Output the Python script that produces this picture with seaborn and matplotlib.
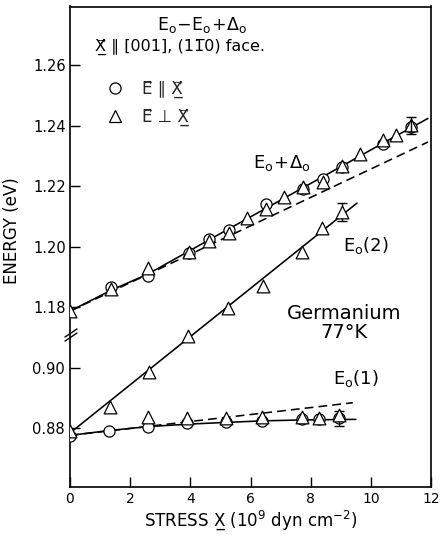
import numpy as np
import matplotlib
matplotlib.use("Agg")
import matplotlib.pyplot as plt
import seaborn as sns
from matplotlib.lines import Line2D
from matplotlib.ticker import FormatStrFormatter

sns.set_theme(style="ticks")
plt.rcParams["font.family"] = ["DejaVu Sans"]
plt.rcParams["mathtext.fontset"] = "dejavusans"

# ---- E0 + Delta0 (upper energy scale, eV) ----
so_stress_perp = [0, 1.35, 2.6, 3.95, 4.62, 5.29, 5.9, 6.5, 7.1, 7.75, 8.4,
                  9.05, 9.65, 10.4, 10.85, 11.35]
so_energy_perp = [1.1787, 1.1859, 1.1928, 1.1983, 1.2018, 1.2046, 1.2095, 1.2123,
                  1.2165, 1.2198, 1.2214, 1.2267, 1.2306, 1.2352, 1.2369, 1.2402]
so_stress_par = [1.35, 2.6, 3.95, 4.62, 5.29, 6.5, 7.75, 8.4, 9.05, 10.4, 11.35]
so_energy_par = [1.1865, 1.1902, 1.1978, 1.2024, 1.2055, 1.2140, 1.2192, 1.2225,
                 1.2262, 1.2341, 1.2395]
so_fit_stress = [0, 1.35, 2.6, 3.95, 5.3, 6.5, 7.75, 9.05, 10.4, 11.9]
so_fit_energy = [1.1787, 1.1855, 1.1910, 1.1985, 1.2060, 1.2126, 1.2195, 1.2267,
                 1.2342, 1.2424]
so_lin_stress = [0, 11.9]
so_lin_energy = [1.1787, 1.2346]
so_err_stress = [11.35]
so_err_energy = [1.2400]
so_err = [0.0028]

# ---- E0 components (lower energy scale, eV) ----
e1_stress_par = [0, 1.31, 2.58, 3.89, 5.2, 6.39, 7.7, 8.28, 8.93]
e1_energy_par = [0.8774, 0.8791, 0.8804, 0.8816, 0.8821, 0.8824, 0.8829, 0.8829, 0.8832]
e1_stress_perp = [2.58, 3.89, 5.2, 6.39, 7.7, 8.28, 8.93]
e1_energy_perp = [0.8837, 0.8832, 0.8832, 0.8837, 0.8837, 0.8834, 0.8843]
e1_fit_stress = [0, 1.3, 2.6, 3.9, 5.2, 6.4, 7.7, 9.5]
e1_fit_energy = [0.8776, 0.8792, 0.8805, 0.8813, 0.8819, 0.8824, 0.8827, 0.8829]
e1_lin_stress = [0, 9.4]
e1_lin_energy = [0.8776, 0.8884]
e1_err_stress = [8.93]
e1_err_energy = [0.8832]
e1_err = [0.0025]

e2_stress = [0, 1.32, 2.62, 3.93, 5.24, 6.43, 7.72, 8.38, 9.05]
e2_energy = [0.8791, 0.8870, 0.8984, 0.9105, 0.9198, 0.9269, 0.9383, 0.9462, 0.9515]
e2_fit_stress = [0, 9.54]
e2_fit_energy = [0.8784, 0.9544]
e2_err_stress = [9.05]
e2_err_energy = [0.9515]
e2_err = [0.0029]

x_ticks = [0, 2, 4, 6, 8, 10, 12]
low_ticks = [0.88, 0.90]
up_ticks = [1.18, 1.20, 1.22, 1.24, 1.26]
low_range = (0.8607, 1.0194)
scale_offset = 0.26  # energy removed at the axis break

LW = 1.15
DASH = (0, (5.5, 3.2))
circ_kw = dict(marker="o", s=64, color="white", edgecolor="black", linewidth=0.9)
tri_kw = dict(marker="^", s=84, color="white", edgecolor="black", linewidth=0.9)

fig = plt.figure(figsize=(4.42, 5.37), dpi=100)
ax = fig.add_axes([70 / 442, 1 - 486.5 / 537, 361 / 442, 480 / 537])
ax_up = ax.twinx()

# lower scale: E0(1) and E0(2)
sns.lineplot(x=e1_fit_stress, y=e1_fit_energy, ax=ax, color="black", linewidth=LW,
             estimator=None, sort=False, zorder=2)
sns.lineplot(x=e1_lin_stress, y=e1_lin_energy, ax=ax, color="black", linewidth=LW,
             linestyle=DASH, estimator=None, sort=False, zorder=2)
sns.lineplot(x=e2_fit_stress, y=e2_fit_energy, ax=ax, color="black", linewidth=LW,
             estimator=None, sort=False, zorder=2)
sns.scatterplot(x=e1_stress_par, y=e1_energy_par, ax=ax, zorder=3, **circ_kw)
ax.errorbar(e1_err_stress, e1_err_energy, yerr=e1_err, fmt="none", ecolor="black",
            elinewidth=1.0, capsize=3.5, capthick=1.0, zorder=3.5)
ax.errorbar(e2_err_stress, e2_err_energy, yerr=e2_err, fmt="none", ecolor="black",
            elinewidth=1.0, capsize=3.5, capthick=1.0, zorder=3.5)
sns.scatterplot(x=e1_stress_perp, y=e1_energy_perp, ax=ax, zorder=4, **tri_kw)
sns.scatterplot(x=e2_stress, y=e2_energy, ax=ax, zorder=4, **tri_kw)

# upper scale: E0 + Delta0
sns.lineplot(x=so_fit_stress, y=so_fit_energy, ax=ax_up, color="black", linewidth=LW,
             estimator=None, sort=False, zorder=2)
sns.lineplot(x=so_lin_stress, y=so_lin_energy, ax=ax_up, color="black", linewidth=LW,
             linestyle=DASH, estimator=None, sort=False, zorder=2)
sns.scatterplot(x=so_stress_par, y=so_energy_par, ax=ax_up, zorder=3, **circ_kw)
sns.scatterplot(x=so_stress_perp, y=so_energy_perp, ax=ax_up, zorder=4, **tri_kw)
ax_up.errorbar(so_err_stress, so_err_energy, yerr=so_err, fmt="none", ecolor="black",
               elinewidth=1.0, capsize=3.5, capthick=1.0, zorder=5)

# axes, scales and ticks
ax.set_xlim(0, 12)
ax.set_ylim(*low_range)
ax_up.set_ylim(low_range[0] + scale_offset, low_range[1] + scale_offset)
ax.set_xticks(x_ticks)
ax.set_xticklabels([str(t) for t in x_ticks])
ax.set_yticks(low_ticks)
ax_up.set_yticks(up_ticks)
ax.yaxis.set_major_formatter(FormatStrFormatter("%.2f"))
ax_up.yaxis.set_major_formatter(FormatStrFormatter("%.2f"))
ax_up.yaxis.tick_left()

tick_kw = dict(direction="in", length=7, width=1.0, color="black", labelcolor="black")
ax.tick_params(axis="x", pad=4, top=False, bottom=True, labelsize=10, **tick_kw)
ax.tick_params(axis="y", pad=4, left=True, right=False, labelsize=10.5, **tick_kw)
ax_up.tick_params(axis="y", pad=3, left=True, right=False, labelleft=True,
                  labelright=False, labelsize=10.5, **tick_kw)

for side in ["left", "right", "top", "bottom"]:
    ax.spines[side].set_color("black")
    ax.spines[side].set_linewidth(1.2)
    ax_up.spines[side].set_visible(False)
ax.set_facecolor("white")
ax_up.patch.set_visible(False)

ax.set_xlabel("STRESS X\u0332 (10$^{9}$ dyn cm$^{-2}$)", fontsize=12, color="black",
              labelpad=2)
ax.set_ylabel("ENERGY (eV)", fontsize=12, color="black")
ax.yaxis.set_label_coords(-0.137, 0.534)
ax_up.set_ylabel("")

# axis break marks on the left spine
for y0 in (0.3115, 0.3030):
    ax.plot([-0.0138, 0.0194], [y0, y0 + 0.0167], transform=ax.transAxes,
            color="black", lw=1.0, clip_on=False, zorder=6)

# annotations
ax.text(0.367, 0.961, r"$\mathregular{E_o\!-\!E_o\!+\!\Delta_o}$", transform=ax.transAxes,
        ha="center", va="center", fontsize=12.5, color="black")
ax.text(0.069, 0.915, "X\u20d7\u0332 \u2225 [001], (11\u03050) face.", transform=ax.transAxes,
        ha="left", va="center", fontsize=11.5, color="black")
ax.text(0.507, 0.674, r"$\mathregular{E_o\!+\!\Delta_o}$", transform=ax.transAxes,
        ha="left", va="center", fontsize=13, color="black")
ax.text(0.756, 0.503, r"$\mathregular{E_o(2)}$", transform=ax.transAxes,
        ha="left", va="center", fontsize=13, color="black")
ax.text(0.729, 0.226, r"$\mathregular{E_o(1)}$", transform=ax.transAxes,
        ha="left", va="center", fontsize=13, color="black")
ax.text(0.759, 0.341, "Germanium\n77\u00b0K", transform=ax.transAxes,
        ha="center", va="center", fontsize=14, color="black", linespacing=1.0)

handles = [
    Line2D([], [], marker="o", ls="none", mfc="white", mec="black", ms=8, mew=0.9),
    Line2D([], [], marker="^", ls="none", mfc="white", mec="black", ms=9, mew=0.9),
]
labels = ["E\u20d7 \u2225 X\u20d7\u0332", "E\u20d7 \u22a5 X\u20d7\u0332"]
ax_up.legend(handles, labels, loc="upper left", bbox_to_anchor=(0.102, 0.847),
             frameon=False, fontsize=12, handlelength=1.0, handletextpad=1.1,
             borderpad=0, borderaxespad=0, labelspacing=0.6)

fig.savefig("out.png", dpi=100, facecolor="white")
